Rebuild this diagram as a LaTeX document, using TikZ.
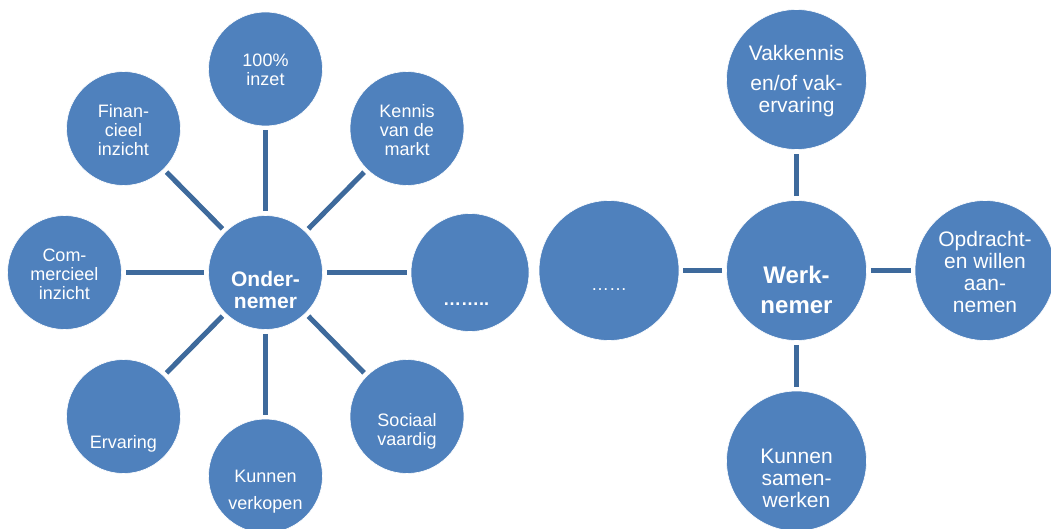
\documentclass[tikz,border=0pt]{standalone}
\usepackage{fontspec}
\setmainfont{Liberation Sans}
\definecolor{cfill}{HTML}{4F81BD}
\definecolor{cline}{HTML}{3E6A9C}
\tikzset{
  bub/.style={circle, fill=cfill, draw=white, line width=0.6pt, inner sep=0pt, minimum size=114pt},
  bigbub/.style={bub, minimum size=140pt},
  lbl/.style={text=white, align=center, inner sep=0pt, font=\fontsize{18}{19}\selectfont},
  lblb/.style={text=white, align=center, inner sep=0pt, font=\fontsize{21}{22}\selectfont},
  con/.style={cline, line width=5pt, shorten <=4pt, shorten >=4pt},
}
\begin{document}
\begin{tikzpicture}[x=1pt,y=-1pt]
\useasboundingbox (0,0) rectangle (1051,529);
% left cluster
\node[bub] (on)  at (265.5,272.5) {};
\node[bub] (inz) at (265.5,69) {};
\node[bub] (fin) at (123.5,128.5) {};
\node[bub] (ken) at (407,128.5) {};
\node[bub] (com) at (64.5,272.5) {};
\node[bub, minimum size=118pt] (dd1) at (470,272.5) {};
\node[bub] (erv) at (123.5,416.5) {};
\node[bub] (kv)  at (265.5,476) {};
\node[bub] (soc) at (407,416.5) {};
% right cluster
\node[bigbub] (dd2) at (609,270.5) {};
\node[bigbub] (wn)  at (796.5,270.5) {};
\node[bigbub] (vak) at (796.5,79.5) {};
\node[bigbub] (opd) at (985,270.5) {};
\node[bigbub] (ksw) at (796.5,461) {};
% connectors
\foreach \t in {inz,fin,ken,com,dd1,erv,kv,soc}
  \draw[con] (on) -- (\t);
\foreach \t in {dd2,vak,opd,ksw}
  \draw[con] (wn) -- (\t);
% labels
\node[lbl] (tinz) at (265.5,70) {100\%\\inzet};
\node[lbl] (tfin) at (123.5,130) {Finan-\\cieel\\inzicht};
\node[lbl] (tken) at (407,130) {Kennis\\van de\\markt};
\node[lbl] (tcom) at (64.5,274) {Com-\\mercieel\\inzicht};
\node[text=white, align=center, inner sep=0pt, font=\bfseries\fontsize{21}{22}\selectfont] (ton) at (265.5,290) {Onder-\\nemer};
\node[lbl, font=\bfseries\fontsize{18}{19}\selectfont, anchor=base] (tdd1) at (466,305) {……..};
\node[lbl] (terv) at (123.5,444) {Ervaring};
\node[lbl] (tkv) at (265.5,492) {Kunnen\\[8pt]verkopen};
\node[lbl] (tsoc) at (407,431) {Sociaal\\vaardig};
\node[lbl, anchor=base] (tdd2) at (609,290) {……};
\node[text=white, align=center, inner sep=0pt, font=\bfseries\fontsize{24}{30}\selectfont] (twn) at (796.5,290) {Werk-\\nemer};
\node[lblb] (tvak) at (796.5,81) {Vakkennis\\[8pt]en/of vak-\\ervaring};
\node[lblb] (topd) at (985,272) {Opdracht-\\en willen\\aan-\\nemen};
\node[lblb] (tksw) at (796.5,478) {Kunnen\\samen-\\werken};
\end{tikzpicture}
\end{document}
